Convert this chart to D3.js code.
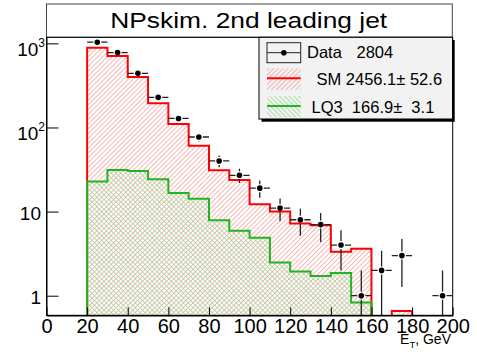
<!DOCTYPE html>
<html><head><meta charset="utf-8">
<script src="https://cdn.jsdelivr.net/npm/d3@7"></script>
<style>
html,body{margin:0;padding:0;background:#fff;}
svg{display:block;font-family:"Liberation Sans",Arial,Helvetica,sans-serif;}
text{white-space:pre;}
</style></head><body>
<svg id="c" width="477" height="356"></svg>
<script>
// Histogram binning: 10 GeV bins from 0 to 200 GeV
const binLow    = [0,10,20,30,40,50,60,70,80,90,100,110,120,130,140,150,160,170,180,190];
const binWidth  = 10;
// Observed events per bin
const dataCounts = [0,0,1032,776,440,228,128,77,40,27,19,11,8,7,4,1,2,3,0,1];
// Standard Model expectation per bin
const smValues   = [0,0,889,706,398,194,110,60.6,31.1,23.7,12.2,10.0,7.24,6.86,3.33,3.61,0,0.66,0,0];
// LQ3 signal per bin
const lq3Values  = [0,0,22.8,31.2,30.3,24.2,16.6,14.2,7.9,5.9,4.88,2.49,1.94,1.71,1.86,0.83,0,0,0,0];
// Axis ticks and labels
const xTicksMajor = [0,20,40,60,80,100,120,140,160,180,200];
const yTicksMajor = [1,10,100,1000];
const yLabels     = ["1","10","10^2","10^3"];
// Legend entries
const legendNames  = ["Data","SM","LQ3"];
const legendTexts  = ["2804","2456.1\u00b1 52.6","166.9\u00b1  3.1"];
const titleText = "NPskim. 2nd leading jet";
const xTitle = ["E","T",", GeV"];

const svg = d3.select("#c");
const frame = {l:46.5, r:452.7, t:37.3, b:315.3};

const x = d3.scaleLinear().domain([0,200]).range([frame.l, frame.r]);
const y = d3.scaleLog().domain([0.585,1180]).range([frame.b, frame.t]);

const defs = svg.append("defs");
defs.append("clipPath").attr("id","frameClip")
  .append("rect").attr("x",frame.l).attr("y",frame.t)
  .attr("width",frame.r-frame.l).attr("height",frame.b-frame.t);

function hatch(id, angle, color){
  const p = defs.append("pattern").attr("id",id)
    .attr("patternUnits","userSpaceOnUse").attr("width",3.4).attr("height",6)
    .attr("patternTransform",`rotate(${angle})`);
  p.append("line").attr("x1",0.5).attr("y1",0).attr("x2",0.5).attr("y2",6)
    .attr("stroke",color).attr("stroke-width",0.8);
}
hatch("hatchSM", 45, "#f59a9a");
hatch("hatchLQ", -45, "#8fd88f");

// Title box
svg.append("rect").attr("x",46.5).attr("y",4).attr("width",405.8).attr("height",33.3)
  .attr("fill","#fff").attr("stroke","#444").attr("stroke-width",1);
svg.append("text").attr("x",248.7).attr("y",27.7).attr("text-anchor","middle")
  .attr("font-size",22).attr("textLength",277).attr("lengthAdjust","spacingAndGlyphs")
  .text(titleText);

// Histogram geometry
const yv = v => v > 0 ? y(v) : frame.b + 2;
function stepPoints(vals){
  const pts = binLow.map((lo,i)=>[x(lo), yv(vals[i])]);
  pts.push([x(binLow[binLow.length-1]+binWidth), yv(vals[vals.length-1])]);
  return pts;
}
const plot = svg.append("g").attr("clip-path","url(#frameClip)");
const area = d3.area().curve(d3.curveStepAfter).x(d=>d[0]).y0(frame.b+2).y1(d=>d[1]);
const line = d3.line().curve(d3.curveStepAfter);

function outline(vals){
  const pts = stepPoints(vals);
  return [[x(0), frame.b+2], ...pts, [x(200), frame.b+2]];
}

plot.append("path").attr("d",area(stepPoints(smValues))).attr("fill","url(#hatchSM)");
plot.append("path").attr("d",area(stepPoints(lq3Values))).attr("fill","url(#hatchLQ)");
plot.append("path").attr("d",line(outline(smValues))).attr("fill","none")
  .attr("stroke","#ff0000").attr("stroke-width",2);
plot.append("path").attr("d",line(outline(lq3Values))).attr("fill","none")
  .attr("stroke","#22b422").attr("stroke-width",2);

// Data points with error bars
const gap = 4;
const pts = plot.append("g").attr("stroke","#222").attr("stroke-width",1.3);
dataCounts.forEach((n,i)=>{
  if(n<=0) return;
  const cx = x(binLow[i]+binWidth/2), cy = y(n);
  const xl = x(binLow[i]), xh = x(binLow[i]+binWidth);
  pts.append("line").attr("x1",xl).attr("x2",cx-gap).attr("y1",cy).attr("y2",cy);
  pts.append("line").attr("x1",cx+gap).attr("x2",xh).attr("y1",cy).attr("y2",cy);
  const e = Math.sqrt(n);
  const yu = y(n+e), yd = (n-e)>0 ? y(n-e) : frame.b+2;
  if(yu < cy-gap) pts.append("line").attr("x1",cx).attr("x2",cx).attr("y1",yu).attr("y2",cy-gap);
  if(yd > cy+gap) pts.append("line").attr("x1",cx).attr("x2",cx).attr("y1",cy+gap).attr("y2",yd);
  pts.append("circle").attr("cx",cx).attr("cy",cy).attr("r",2.8).attr("fill","#000").attr("stroke","none");
});

// Frame
svg.append("rect").attr("x",frame.l).attr("y",frame.t)
  .attr("width",frame.r-frame.l).attr("height",frame.b-frame.t)
  .attr("fill","none").attr("stroke","#000").attr("stroke-width",1);

// X axis
const xMinor = d3.range(0,201,5);
const gx = svg.append("g").attr("transform",`translate(0,${frame.b})`);
gx.call(d3.axisBottom(x).tickValues(xMinor).tickSize(-4).tickSizeOuter(0).tickFormat(""));
gx.call(d3.axisBottom(x).tickValues(xTicksMajor).tickSize(-8).tickSizeOuter(0).tickPadding(3).tickFormat(d3.format("d")));
gx.select(".domain").attr("stroke","#000").attr("stroke-width",1.5);
gx.selectAll("text").attr("font-size",20).attr("fill","#000")
  .attr("font-family","Liberation Sans, Arial, sans-serif");
gx.selectAll("line").attr("stroke","#000");

// Y axis
const yMinor = [];
[0.1,1,10,100,1000].forEach(d=>{ for(let k=2;k<=9;k++){ const v=d*k; if(v>=0.585&&v<=1180) yMinor.push(v);} });
const gy = svg.append("g").attr("transform",`translate(${frame.l},0)`);
gy.call(d3.axisLeft(y).tickValues(yMinor).tickSize(-6).tickSizeOuter(0).tickFormat(""));
gy.call(d3.axisLeft(y).tickValues(yTicksMajor).tickSize(-12).tickSizeOuter(0).tickFormat(""));
gy.select(".domain").attr("stroke","#000").attr("stroke-width",1);
gy.selectAll("line").attr("stroke","#000");

// Y tick labels (powers of ten with superscripts)
yTicksMajor.forEach((v,i)=>{
  const lab = yLabels[i];
  if(lab.includes("^")){
    const [b,e] = lab.split("^");
    const t = svg.append("text").attr("x",45).attr("y",y(v)+12.4).attr("text-anchor","end").attr("font-size",19);
    t.append("tspan").text(b);
    t.append("tspan").attr("font-size",12).attr("dy",-8.4).text(e);
  } else {
    svg.append("text").attr("x",41).attr("y",y(v)+8).attr("text-anchor","end").attr("font-size",19).text(lab);
  }
});

// X axis title
const xt = svg.append("text").attr("x",451).attr("y",344).attr("text-anchor","end").attr("font-size",14);
xt.append("tspan").text(xTitle[0]);
xt.append("tspan").attr("font-size",9.5).attr("dy",4).text(xTitle[1]);
xt.append("tspan").attr("dy",-4).text(xTitle[2]);

// Legend
const lg = svg.append("g");
lg.append("rect").attr("x",261.5).attr("y",40).attr("width",193.2).attr("height",81.7).attr("fill","#000");
lg.append("rect").attr("x",259).attr("y",37.3).attr("width",193.5).attr("height",81.7)
  .attr("fill","#f2f2f2").attr("stroke","#000").attr("stroke-width",1);
const sx0 = 267, sx1 = 300.7;
// Data symbol
lg.append("rect").attr("x",sx0).attr("y",42.7).attr("width",sx1-sx0).attr("height",20)
  .attr("fill","none").attr("stroke","#222").attr("stroke-width",1);
lg.append("line").attr("x1",sx0).attr("x2",sx1).attr("y1",52.7).attr("y2",52.7).attr("stroke","#222");
lg.append("circle").attr("cx",(sx0+sx1)/2).attr("cy",52.7).attr("r",2.8).attr("fill","#000");
// SM symbol
lg.append("rect").attr("x",sx0).attr("y",68.3).attr("width",sx1-sx0).attr("height",21.7).attr("fill","url(#hatchSM)");
lg.append("line").attr("x1",sx0).attr("x2",sx1).attr("y1",78.3).attr("y2",78.3).attr("stroke","#ff0000").attr("stroke-width",2);
// LQ3 symbol
lg.append("rect").attr("x",sx0).attr("y",96).attr("width",sx1-sx0).attr("height",21.3).attr("fill","url(#hatchLQ)");
lg.append("line").attr("x1",sx0).attr("x2",sx1).attr("y1",106).attr("y2",106).attr("stroke","#22b422").attr("stroke-width",2);

lg.append("text").attr("x",307).attr("y",58.3).attr("font-size",16.5).text(legendNames[0]);
lg.append("text").attr("x",356.5).attr("y",58.3).attr("font-size",16.5).text(legendTexts[0]);
lg.append("text").attr("x",316.5).attr("y",85).attr("font-size",16.5)
  .text(legendNames[1]+" "+legendTexts[1]);
lg.append("text").attr("x",311.5).attr("y",112.7).attr("font-size",16.5)
  .text(legendNames[2]+"  "+legendTexts[2]);
</script>
</body></html>
